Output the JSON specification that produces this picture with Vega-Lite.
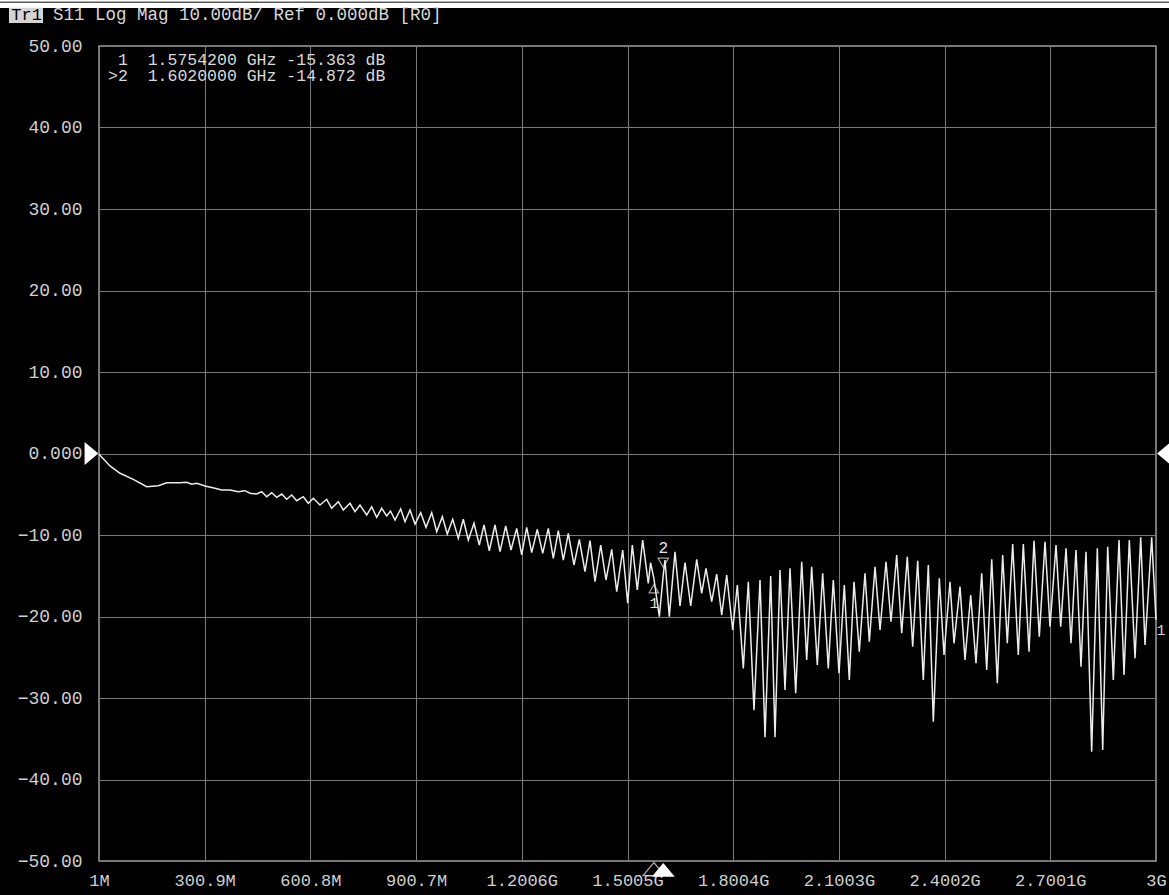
{
  "$schema": "https://vega.github.io/schema/vega-lite/v6.json",
  "width": 1057,
  "height": 815,
  "autosize": {"type": "none"},
  "padding": {"left": 99, "top": 46, "right": 13, "bottom": 34},
  "background": "#000000",
  "config": {
    "view": {"stroke": "#9a9a9a", "strokeWidth": 1.5, "fill": "#000000"},
    "font": "Liberation Mono"
  },
  "datasets": {
    "trace": [
      {"f": 1, "db": -0.1}, {"f": 32.2, "db": -1.53}, {"f": 60.6, "db": -2.43}, {"f": 98.3, "db": -3.17},
      {"f": 136.3, "db": -4.07}, {"f": 169.2, "db": -3.95}, {"f": 193.1, "db": -3.58}, {"f": 230.8, "db": -3.58},
      {"f": 249.8, "db": -3.53}, {"f": 264.0, "db": -3.78}, {"f": 278.2, "db": -3.66}, {"f": 301.8, "db": -3.99},
      {"f": 330.1, "db": -4.27}, {"f": 349.1, "db": -4.48}, {"f": 372.7, "db": -4.48}, {"f": 396.2, "db": -4.69},
      {"f": 415.2, "db": -4.56}, {"f": 429.4, "db": -4.88}, {"f": 448.4, "db": -4.97}, {"f": 462.6, "db": -4.69},
      {"f": 476.8, "db": -5.30}, {"f": 491.0, "db": -4.81}, {"f": 505.2, "db": -5.37}, {"f": 519.4, "db": -4.97},
      {"f": 533.6, "db": -5.62}, {"f": 547.7, "db": -5.09}, {"f": 561.9, "db": -5.79}, {"f": 580.7, "db": -5.30},
      {"f": 594.8, "db": -6.11}, {"f": 609.0, "db": -5.50}, {"f": 628.0, "db": -6.32}, {"f": 647.0, "db": -5.62},
      {"f": 661.2, "db": -6.72}, {"f": 679.9, "db": -5.91}, {"f": 694.1, "db": -6.93}, {"f": 713.2, "db": -6.11},
      {"f": 727.3, "db": -7.14}, {"f": 741.5, "db": -6.32}, {"f": 760.5, "db": -7.55}, {"f": 774.7, "db": -6.53},
      {"f": 788.9, "db": -7.83}, {"f": 803.1, "db": -6.72}, {"f": 817.3, "db": -7.67}, {"f": 828.1, "db": -7.06},
      {"f": 840.8, "db": -8.16}, {"f": 857.0, "db": -6.81}, {"f": 869.2, "db": -8.37}, {"f": 883.4, "db": -6.93},
      {"f": 897.6, "db": -8.65}, {"f": 913.8, "db": -7.26}, {"f": 928.8, "db": -9.06}, {"f": 945.0, "db": -7.26},
      {"f": 959.2, "db": -9.60}, {"f": 975.1, "db": -7.75}, {"f": 989.2, "db": -9.88}, {"f": 1004.6, "db": -8.07},
      {"f": 1020.5, "db": -10.40}, {"f": 1034.6, "db": -8.07}, {"f": 1048.8, "db": -10.61}, {"f": 1065.0, "db": -8.56},
      {"f": 1080.0, "db": -11.23}, {"f": 1093.4, "db": -8.77}, {"f": 1108.4, "db": -11.93}, {"f": 1124.6, "db": -8.77},
      {"f": 1138.8, "db": -12.05}, {"f": 1154.9, "db": -8.90}, {"f": 1170.0, "db": -11.84}, {"f": 1186.1, "db": -9.18},
      {"f": 1200.3, "db": -12.45}, {"f": 1214.5, "db": -9.06}, {"f": 1228.7, "db": -12.17}, {"f": 1244.6, "db": -9.30},
      {"f": 1259.9, "db": -12.25}, {"f": 1275.8, "db": -9.18}, {"f": 1290.0, "db": -12.86}, {"f": 1304.2, "db": -9.47},
      {"f": 1318.4, "db": -13.07}, {"f": 1332.5, "db": -9.79}, {"f": 1348.7, "db": -13.68}, {"f": 1363.8, "db": -10.53},
      {"f": 1379.9, "db": -14.50}, {"f": 1394.1, "db": -10.70}, {"f": 1408.3, "db": -15.73}, {"f": 1424.5, "db": -11.23},
      {"f": 1439.5, "db": -15.52}, {"f": 1455.7, "db": -11.75}, {"f": 1469.9, "db": -16.96}, {"f": 1486.9, "db": -11.84},
      {"f": 1501.0, "db": -18.38}, {"f": 1514.1, "db": -11.23}, {"f": 1528.3, "db": -16.75}, {"f": 1543.6, "db": -10.61},
      {"f": 1559.5, "db": -15.93}, {"f": 1566.0, "db": -13.4}, {"f": 1575.42, "db": -15.363}, {"f": 1590.8, "db": -20.02},
      {"f": 1602.0, "db": -14.872}, {"f": 1606.9, "db": -13.07}, {"f": 1619.1, "db": -20.02}, {"f": 1635.3, "db": -12.05},
      {"f": 1649.5, "db": -18.71}, {"f": 1663.7, "db": -13.40}, {"f": 1679.8, "db": -18.71}, {"f": 1696.9, "db": -12.98},
      {"f": 1711.0, "db": -17.15}, {"f": 1723.2, "db": -14.09}, {"f": 1739.4, "db": -18.18}, {"f": 1753.6, "db": -14.79},
      {"f": 1767.8, "db": -19.82}, {"f": 1782.0, "db": -14.91}, {"f": 1799.0, "db": -21.66}, {"f": 1812.1, "db": -16.13},
      {"f": 1829.1, "db": -26.36}, {"f": 1843.3, "db": -15.73}, {"f": 1859.4, "db": -31.5}, {"f": 1876.5, "db": -15.52},
      {"f": 1890.7, "db": -34.8}, {"f": 1906.8, "db": -15.03}, {"f": 1919.0, "db": -34.8}, {"f": 1933.2, "db": -14.29},
      {"f": 1947.4, "db": -29.02}, {"f": 1961.6, "db": -14.09}, {"f": 1977.7, "db": -29.42}, {"f": 1994.8, "db": -13.28},
      {"f": 2008.9, "db": -25.34}, {"f": 2023.1, "db": -13.89}, {"f": 2039.0, "db": -25.95}, {"f": 2054.3, "db": -14.70},
      {"f": 2070.2, "db": -26.36}, {"f": 2084.4, "db": -15.52}, {"f": 2100.6, "db": -26.97}, {"f": 2115.6, "db": -16.13},
      {"f": 2129.8, "db": -27.79}, {"f": 2143.2, "db": -15.73}, {"f": 2158.2, "db": -24.32}, {"f": 2174.4, "db": -14.70},
      {"f": 2186.6, "db": -23.09}, {"f": 2202.8, "db": -13.89}, {"f": 2217.0, "db": -21.66}, {"f": 2234.0, "db": -13.28},
      {"f": 2248.1, "db": -20.64}, {"f": 2264.3, "db": -12.45}, {"f": 2278.5, "db": -22.06}, {"f": 2294.4, "db": -12.66},
      {"f": 2309.7, "db": -23.71}, {"f": 2323.9, "db": -13.15}, {"f": 2339.8, "db": -27.79}, {"f": 2354.0, "db": -13.68},
      {"f": 2368.2, "db": -32.91}, {"f": 2385.2, "db": -15.31}, {"f": 2398.5, "db": -24.72}, {"f": 2415.5, "db": -15.73},
      {"f": 2426.9, "db": -23.29}, {"f": 2443.9, "db": -16.34}, {"f": 2458.1, "db": -25.34}, {"f": 2474.3, "db": -17.36},
      {"f": 2489.3, "db": -25.74}, {"f": 2505.5, "db": -14.70}, {"f": 2519.7, "db": -26.56}, {"f": 2533.9, "db": -12.98},
      {"f": 2549.8, "db": -28.20}, {"f": 2565.0, "db": -12.45}, {"f": 2578.1, "db": -23.29}, {"f": 2593.4, "db": -11.10},
      {"f": 2609.3, "db": -24.72}, {"f": 2623.5, "db": -11.10}, {"f": 2639.7, "db": -24.32}, {"f": 2653.9, "db": -10.70},
      {"f": 2668.9, "db": -22.48}, {"f": 2685.1, "db": -10.82}, {"f": 2699.3, "db": -21.25}, {"f": 2716.3, "db": -11.23},
      {"f": 2729.6, "db": -21.25}, {"f": 2744.7, "db": -11.63}, {"f": 2758.9, "db": -23.29}, {"f": 2773.0, "db": -11.84},
      {"f": 2787.2, "db": -26.16}, {"f": 2801.4, "db": -12.05}, {"f": 2817.5, "db": -36.59}, {"f": 2833.5, "db": -11.63},
      {"f": 2848.8, "db": -36.38}, {"f": 2863.0, "db": -11.44}, {"f": 2878.9, "db": -27.79}, {"f": 2895.1, "db": -10.61},
      {"f": 2909.3, "db": -27.18}, {"f": 2924.3, "db": -10.61}, {"f": 2940.5, "db": -25.13}, {"f": 2956.6, "db": -10.28},
      {"f": 2968.8, "db": -23.50}, {"f": 2987.8, "db": -10.28}, {"f": 3000, "db": -20.4}
    ],
    "markers": [
      {"id": "1", "f": 1575.42, "db": -15.363},
      {"id": "2", "f": 1602.0, "db": -14.872}
    ],
    "one": [{"k": 1}]
  },
  "layer": [
    {
      "data": {"name": "trace"},
      "mark": {"type": "line", "color": "#ececec", "strokeWidth": 1.5, "interpolate": "linear"},
      "encoding": {
        "x": {
          "field": "f", "type": "quantitative",
          "scale": {"domain": [1, 3000], "nice": false, "zero": false},
          "axis": {
            "title": null, "values": [1, 300.9, 600.8, 900.7, 1200.6, 1500.5, 1800.4, 2100.3, 2400.2, 2700.1, 3000],
            "labelExpr": "datum.value < 1000 ? format(datum.value, '.1~f') + 'M' : format(datum.value / 1000, '.4~f') + 'G'",
            "grid": true, "gridColor": "#7a7a7a", "gridWidth": 1,
            "ticks": false, "domain": false, "labelFlush": false, "labelOverlap": false,
            "labelColor": "#cfcfcf", "labelFont": "Liberation Mono", "labelFontSize": 17,
            "labelPadding": 11, "labelBaseline": "top"
          }
        },
        "y": {
          "field": "db", "type": "quantitative",
          "scale": {"domain": [-50, 50], "nice": false, "zero": false},
          "axis": {
            "title": null, "values": [-50, -40, -30, -20, -10, 0, 10, 20, 30, 40, 50],
            "labelExpr": "datum.value == 0 ? '0.000' : format(datum.value, '.2f')",
            "grid": true, "gridColor": "#7a7a7a", "gridWidth": 1,
            "ticks": false, "domain": false, "labelOverlap": false,
            "labelColor": "#cfcfcf", "labelFont": "Liberation Mono", "labelFontSize": 18,
            "labelPadding": 17
          }
        }
      }
    },
    {
      "data": {"name": "one"},
      "mark": {"type": "rect", "color": "#ffffff"},
      "encoding": {
        "x": {"datum": -290, "type": "quantitative"},
        "x2": {"datum": 3050},
        "y": {"datum": 54.66, "type": "quantitative"},
        "y2": {"datum": 57}
      }
    },
    {
      "data": {"name": "one"},
      "mark": {"type": "rule", "color": "#5a5a5a", "strokeWidth": 1.5},
      "encoding": {
        "x": {"datum": -290, "type": "quantitative"},
        "x2": {"datum": 3050},
        "y": {"datum": 55.36, "type": "quantitative"}
      }
    },
    {
      "data": {"name": "one"},
      "mark": {"type": "rect", "color": "#d4d4d4"},
      "encoding": {
        "x": {"datum": -254.4, "type": "quantitative"},
        "x2": {"datum": -157.9},
        "y": {"datum": 52.82, "type": "quantitative"},
        "y2": {"datum": 54.7}
      }
    },
    {
      "data": {"name": "one"},
      "mark": {"type": "text", "text": "Tr1", "align": "left", "baseline": "middle", "color": "#000000", "fontSize": 17, "font": "Liberation Mono"},
      "encoding": {
        "x": {"datum": -248, "type": "quantitative"},
        "y": {"datum": 53.75, "type": "quantitative"}
      }
    },
    {
      "data": {"name": "one"},
      "mark": {"type": "text", "text": "S11 Log Mag 10.00dB/ Ref 0.000dB [R0]", "align": "left", "baseline": "middle", "color": "#d8d8d8", "fontSize": 17.5, "font": "Liberation Mono"},
      "encoding": {
        "x": {"datum": -129.5, "type": "quantitative"},
        "y": {"datum": 53.75, "type": "quantitative"}
      }
    },
    {
      "data": {"name": "one"},
      "mark": {"type": "text", "text": "1\u00a0\u00a01.5754200\u00a0GHz\u00a0-15.363\u00a0dB", "align": "left", "baseline": "middle", "color": "#d8d8d8", "fontSize": 16.5, "font": "Liberation Mono"},
      "encoding": {
        "x": {"datum": 54.9, "type": "quantitative"},
        "y": {"datum": 48.34, "type": "quantitative"}
      }
    },
    {
      "data": {"name": "one"},
      "mark": {"type": "text", "text": ">2\u00a0\u00a01.6020000\u00a0GHz\u00a0-14.872\u00a0dB", "align": "left", "baseline": "middle", "color": "#d8d8d8", "fontSize": 16.5, "font": "Liberation Mono"},
      "encoding": {
        "x": {"datum": 26.8, "type": "quantitative"},
        "y": {"datum": 46.26, "type": "quantitative"}
      }
    },
    {
      "data": {"name": "markers"},
      "transform": [{"filter": "datum.id == '2'"}],
      "mark": {"type": "point", "shape": "triangle-down", "filled": false, "stroke": "#e6e6e6", "strokeWidth": 1.2, "size": 110, "yOffset": -12},
      "encoding": {
        "x": {"field": "f", "type": "quantitative"},
        "y": {"field": "db", "type": "quantitative"}
      }
    },
    {
      "data": {"name": "markers"},
      "transform": [{"filter": "datum.id == '2'"}],
      "mark": {"type": "text", "color": "#e6e6e6", "fontSize": 16, "font": "Liberation Mono", "dy": -27, "baseline": "middle"},
      "encoding": {
        "x": {"field": "f", "type": "quantitative"},
        "y": {"field": "db", "type": "quantitative"},
        "text": {"field": "id"}
      }
    },
    {
      "data": {"name": "markers"},
      "transform": [{"filter": "datum.id == '1'"}],
      "mark": {"type": "point", "shape": "triangle-up", "filled": false, "stroke": "#e6e6e6", "strokeWidth": 1.2, "size": 90, "yOffset": 10},
      "encoding": {
        "x": {"field": "f", "type": "quantitative"},
        "y": {"field": "db", "type": "quantitative"}
      }
    },
    {
      "data": {"name": "markers"},
      "transform": [{"filter": "datum.id == '1'"}],
      "mark": {"type": "text", "color": "#e6e6e6", "fontSize": 15, "font": "Liberation Mono", "dy": 24, "baseline": "middle"},
      "encoding": {
        "x": {"field": "f", "type": "quantitative"},
        "y": {"field": "db", "type": "quantitative"},
        "text": {"field": "id"}
      }
    },
    {
      "data": {"name": "markers"},
      "transform": [{"filter": "datum.id == '1'"}],
      "mark": {"type": "point", "shape": "M-1,0.6L0,-0.6L1,0.6Z", "filled": false, "stroke": "#e6e6e6", "strokeWidth": 1.3, "size": 480},
      "encoding": {
        "x": {"field": "f", "type": "quantitative"},
        "y": {"datum": -51.0, "type": "quantitative"}
      }
    },
    {
      "data": {"name": "markers"},
      "transform": [{"filter": "datum.id == '2'"}],
      "mark": {"type": "point", "shape": "M-1,0.6L0,-0.6L1,0.6Z", "filled": true, "fill": "#ffffff", "opacity": 1, "size": 529},
      "encoding": {
        "x": {"field": "f", "type": "quantitative"},
        "y": {"datum": -51.1, "type": "quantitative"}
      }
    },
    {
      "data": {"name": "one"},
      "mark": {"type": "point", "shape": "M-0.6,-1L0.6,0L-0.6,1Z", "filled": true, "fill": "#ffffff", "opacity": 1, "size": 529},
      "encoding": {
        "x": {"datum": -20.3, "type": "quantitative"},
        "y": {"datum": 0, "type": "quantitative"}
      }
    },
    {
      "data": {"name": "one"},
      "mark": {"type": "point", "shape": "M0.6,-1L-0.6,0L0.6,1Z", "filled": true, "fill": "#ffffff", "opacity": 1, "size": 529},
      "encoding": {
        "x": {"datum": 3022.7, "type": "quantitative"},
        "y": {"datum": 0, "type": "quantitative"}
      }
    },
    {
      "data": {"name": "one"},
      "mark": {"type": "text", "text": "1", "align": "center", "baseline": "middle", "color": "#cfcfcf", "fontSize": 15, "font": "Liberation Mono"},
      "encoding": {
        "x": {"datum": 3014, "type": "quantitative"},
        "y": {"datum": -21.66, "type": "quantitative"}
      }
    }
  ]
}
